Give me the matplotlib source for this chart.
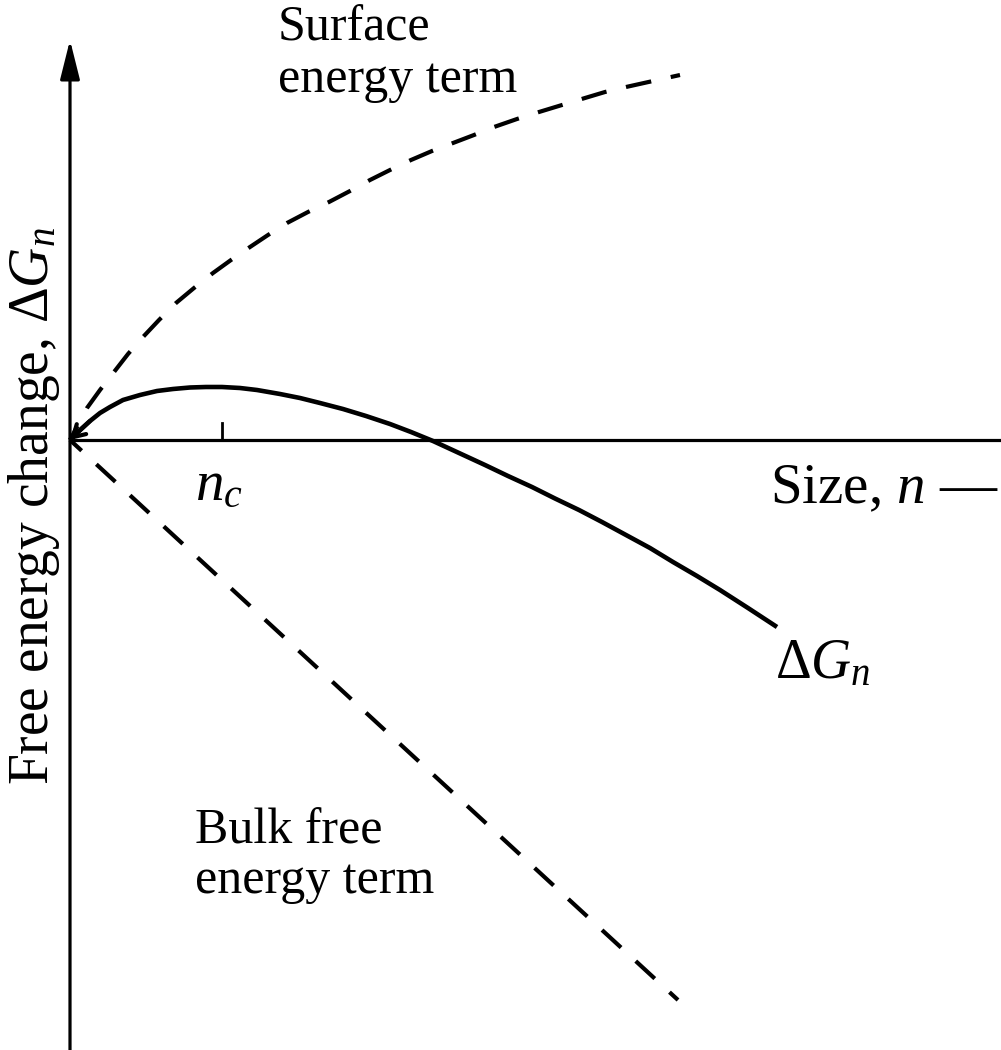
import matplotlib
matplotlib.use("Agg")
import matplotlib.pyplot as plt

plt.rcParams['font.family'] = ['Liberation Serif', 'DejaVu Serif']
plt.rcParams['mathtext.fontset'] = 'custom'
plt.rcParams['mathtext.rm'] = 'Liberation Serif'
plt.rcParams['mathtext.it'] = 'Liberation Serif:italic'

# ---- data (schematic units) ----
surface_n = [0, 0.08, 0.17, 0.30, 0.44, 0.58, 0.73, 0.89, 1.06, 1.24, 1.43,
             1.61, 1.80, 1.98, 2.17, 2.38, 2.59, 2.80, 3.00, 3.20, 3.41,
             3.62, 3.83, 4.04, 4.24, 4.47, 4.69, 4.92, 5.15, 5.35, 5.56,
             5.83, 6.10]
surface_g = [0, 0.15, 0.32, 0.50, 0.68, 0.86, 1.03, 1.20, 1.37, 1.52, 1.67,
             1.80, 1.93, 2.05, 2.17, 2.28, 2.38, 2.49, 2.60, 2.70, 2.80,
             2.89, 2.97, 3.05, 3.13, 3.21, 3.28, 3.35, 3.42, 3.48, 3.53,
             3.59, 3.65]

bulk_n = [0, 3.05, 6.08]
bulk_g = [0, -2.81, -5.60]

total_n = [0, 0.10, 0.20, 0.30, 0.40, 0.53, 0.70, 0.87, 1.03, 1.20, 1.36,
           1.52, 1.70, 1.87, 2.10, 2.30, 2.50, 2.73, 2.96, 3.20, 3.41,
           3.63, 3.89, 4.15, 4.38, 4.62, 4.85, 5.09, 5.32, 5.56, 5.80,
           6.03, 6.27, 6.50, 6.78, 7.07]
total_g = [0, 0.10, 0.19, 0.27, 0.33, 0.40, 0.45, 0.49, 0.51, 0.525, 0.53,
           0.53, 0.52, 0.50, 0.46, 0.42, 0.37, 0.31, 0.24, 0.16, 0.08,
           -0.01, -0.13, -0.25, -0.36, -0.47, -0.585, -0.70, -0.82, -0.95,
           -1.08, -1.22, -1.36, -1.50, -1.68, -1.87]

n_critical = 1.52

fig = plt.figure(figsize=(10.01, 10.5), dpi=100)
ax = fig.add_axes([0, 0, 1, 1])
ax.set_xlim(-0.70, 9.31)
ax.set_ylim(-6.10, 4.40)
ax.axis('off')

# axes
ax.plot([0, 9.31], [0, 0], color='black', lw=2.3, solid_capstyle='butt')
ax.annotate('', xy=(0, 4.00), xytext=(0, -6.10),
            arrowprops=dict(arrowstyle='-|>,head_length=1.2,head_width=0.3',
                            lw=2.3, color='black', mutation_scale=20,
                            shrinkA=0, shrinkB=0))
ax.plot([n_critical, n_critical], [0, 0.17], color='black', lw=2.0)

# curves
ax.plot(surface_n, surface_g, color='black', lw=3.0,
        linestyle=(2.4, (6.2, 4.8)), dash_capstyle='butt')
ax.plot(bulk_n, bulk_g, color='black', lw=3.0,
        linestyle=(2.4, (6.2, 4.8)), dash_capstyle='butt')
ax.plot(total_n, total_g, color='black', lw=3.3, solid_capstyle='butt',
        solid_joinstyle='round')
ax.annotate('', xy=(total_n[0], total_g[0]), xytext=(total_n[2], total_g[2]),
            arrowprops=dict(arrowstyle='->,head_length=0.6,head_width=0.35',
                            lw=3.0, color='black', mutation_scale=14,
                            shrinkA=0, shrinkB=0))

# labels
ax.text(2.08, 4.00, 'Surface', fontsize=36, ha='left', va='baseline')
ax.text(2.08, 3.48, 'energy term', fontsize=36, ha='left', va='baseline')
ax.text(1.25, -4.03, 'Bulk free', fontsize=36, ha='left', va='baseline')
ax.text(1.25, -4.53, 'energy term', fontsize=36, ha='left', va='baseline')
ax.text(7.00, -0.63, 'Size, $n$ —', fontsize=41, ha='left', va='baseline')
ax.text(1.25, -0.60, '$n_c$', fontsize=41, ha='left', va='baseline')
ax.text(7.05, -2.38, 'Δ$G_n$', fontsize=40, ha='left', va='baseline')
ax.text(-0.22, -0.66, 'Free energy change, Δ$G_n$', fontsize=40,
        rotation=90, rotation_mode='anchor', ha='center', va='baseline')

fig.savefig('out.png', dpi=100)
